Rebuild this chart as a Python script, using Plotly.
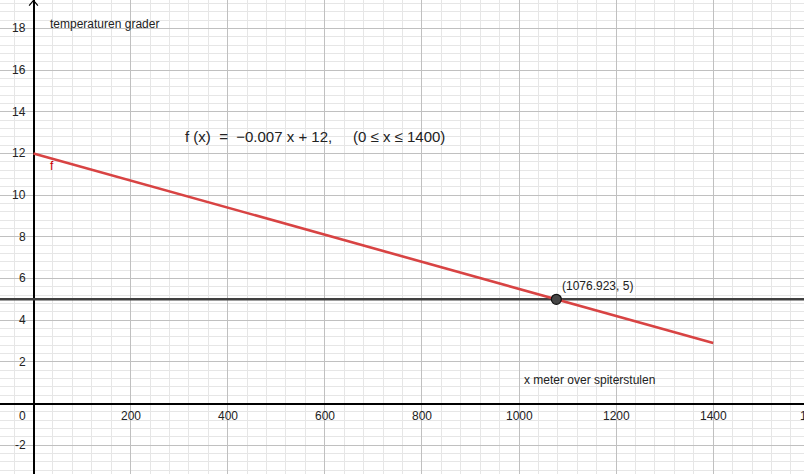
import plotly.graph_objects as go

# data
line_x = [0, 1400]
line_y = [12, 2.9]
hline_y = 5
point_x = [1076.923]
point_y = [5]
x_ticks = [200, 400, 600, 800, 1000, 1200, 1400]
y_ticks = [-2, 2, 4, 6, 8, 10, 12, 14, 16, 18]

XR = [-69, 1587]
YR = [-3.38, 19.36]

fig = go.Figure()

# horizontal line y=5
fig.add_trace(go.Scatter(x=XR, y=[hline_y, hline_y], mode="lines",
                         line=dict(color="#404040", width=2.6), hoverinfo="skip"))
# f
fig.add_trace(go.Scatter(x=line_x, y=line_y, mode="lines",
                         line=dict(color="#d84343", width=2.6), hoverinfo="skip"))
# intersection point
fig.add_trace(go.Scatter(x=point_x, y=point_y, mode="markers",
                         marker=dict(size=10, color="#454545", line=dict(color="#111111", width=1.2)),
                         hoverinfo="skip"))

# y-axis arrowhead
fig.add_trace(go.Scatter(x=[-9, 0, 9], y=[YR[1] - 0.27, YR[1] - 0.02, YR[1] - 0.27], mode="lines",
                         line=dict(color="black", width=1.2), hoverinfo="skip"))

font = dict(family="Liberation Sans, Arial, sans-serif", size=12, color="#222222")
ann = []
for t in x_ticks:
    ann.append(dict(x=t, y=0, text=str(t), showarrow=False, xanchor="center",
                    yanchor="top", yshift=-3, font=font))
# partially visible 1600 label at the right edge
ann.append(dict(x=XR[1], y=0, text="1600", showarrow=False, xanchor="left",
                yanchor="top", yshift=-3, xshift=-6, font=font))
for t in y_ticks:
    ann.append(dict(x=0, y=t, text=str(t), showarrow=False, xanchor="right", yanchor="middle",
                    xshift=-6, font=font))
ann.append(dict(x=0, y=0, text="0", showarrow=False, xanchor="right", yanchor="top",
                xshift=-6, yshift=-3, font=font))

ann.append(dict(x=30, y=18.2, text="temperaturen grader", showarrow=False, xanchor="left",
                yanchor="middle", font=font))
ann.append(dict(x=1006, y=1.13, text="x meter over spiterstulen", showarrow=False, xanchor="left",
                yanchor="middle", font=font))
ann.append(dict(x=38, y=11.4, text="f", showarrow=False, xanchor="center", yanchor="middle",
                font=dict(family="Liberation Sans, Arial, sans-serif", size=12, color="#cc0000")))
ann.append(dict(x=1076.923, y=5, text="(1076.923, 5)", showarrow=False, xanchor="left",
                yanchor="bottom", xshift=4, yshift=4, font=font))
ann.append(dict(x=308, y=12.8, text="f (x)  =  \u22120.007 x + 12,     (0 \u2264 x \u2264 1400)",
                showarrow=False, xanchor="left", yanchor="middle",
                font=dict(family="Liberation Sans, Arial, sans-serif", size=15, color="#222222")))

fig.update_layout(
    width=804, height=474,
    margin=dict(l=0, r=0, t=0, b=0),
    paper_bgcolor="white", plot_bgcolor="white",
    showlegend=False,
    annotations=ann,
    xaxis=dict(range=XR, showticklabels=False, ticks="", dtick=200, tick0=0,
               showgrid=True, gridcolor="#c0c0c0", gridwidth=1,
               minor=dict(dtick=40, tick0=0, showgrid=True, gridcolor="#e6e6e6", gridwidth=1),
               zeroline=True, zerolinecolor="black", zerolinewidth=1.5, fixedrange=True),
    yaxis=dict(range=YR, showticklabels=False, ticks="", dtick=2, tick0=0,
               showgrid=True, gridcolor="#c0c0c0", gridwidth=1,
               minor=dict(dtick=0.4, tick0=0, showgrid=True, gridcolor="#e6e6e6", gridwidth=1),
               zeroline=True, zerolinecolor="black", zerolinewidth=1.5, fixedrange=True),
)

fig.write_html("out.html", config={"displayModeBar": False},
               post_script="document.body.style.margin='0';document.body.style.overflow='hidden';")
